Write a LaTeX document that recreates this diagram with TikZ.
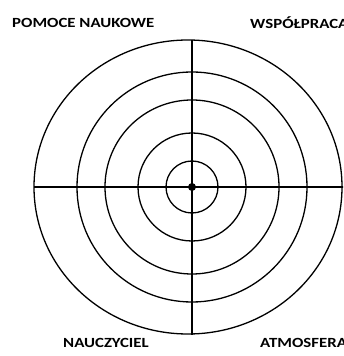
\documentclass[tikz,border=0pt]{standalone}
\usepackage{fontspec}
\setmainfont{Carlito}
\usetikzlibrary{positioning}
\tikzset{
  ring/.style={draw=black, line width=1.3pt},
  axis/.style={draw=black, line width=1.4pt},
  label/.style={font=\bfseries\fontsize{14}{16}\selectfont, inner sep=0pt, xscale=1.2},
  dot/.style={circle, fill=black, inner sep=0pt, minimum size=8pt}
}
\begin{document}
\begin{tikzpicture}[x=1pt, y=1pt]
  \useasboundingbox (0,0) rectangle (343,356);
  \clip (0,0) rectangle (343,356);
  \coordinate (c) at (192,169);
  % target rings
  \draw[ring] (188,169) ellipse [x radius=154, y radius=147];
  \draw[ring] (c) circle [radius=115];
  \draw[ring] (c) circle [radius=87];
  \draw[ring] (c) circle [radius=54];
  \draw[ring] (c) circle [radius=26];
  % axes
  \coordinate (top) at (192,316);
  \coordinate (bot) at (192,21);
  \coordinate (lft) at (34,169);
  \coordinate (rgt) at (345,169);
  \draw[axis] (top) -- (bot);
  \draw[axis] (lft) -- (rgt);
  \node[dot] (mid) at (c) {};
  % quarter labels
  \node[label, anchor=west] (pomoce) at (12,333.5) {POMOCE NAUKOWE};
  \node[label, anchor=west] (wspolpraca) at (250,333.5) {WSPÓŁPRACA};
  \node[label, anchor=west] (nauczyciel) at (63,13) {NAUCZYCIEL};
  \node[label, anchor=west] (atmosfera) at (260,13) {ATMOSFERA};
\end{tikzpicture}
\end{document}
